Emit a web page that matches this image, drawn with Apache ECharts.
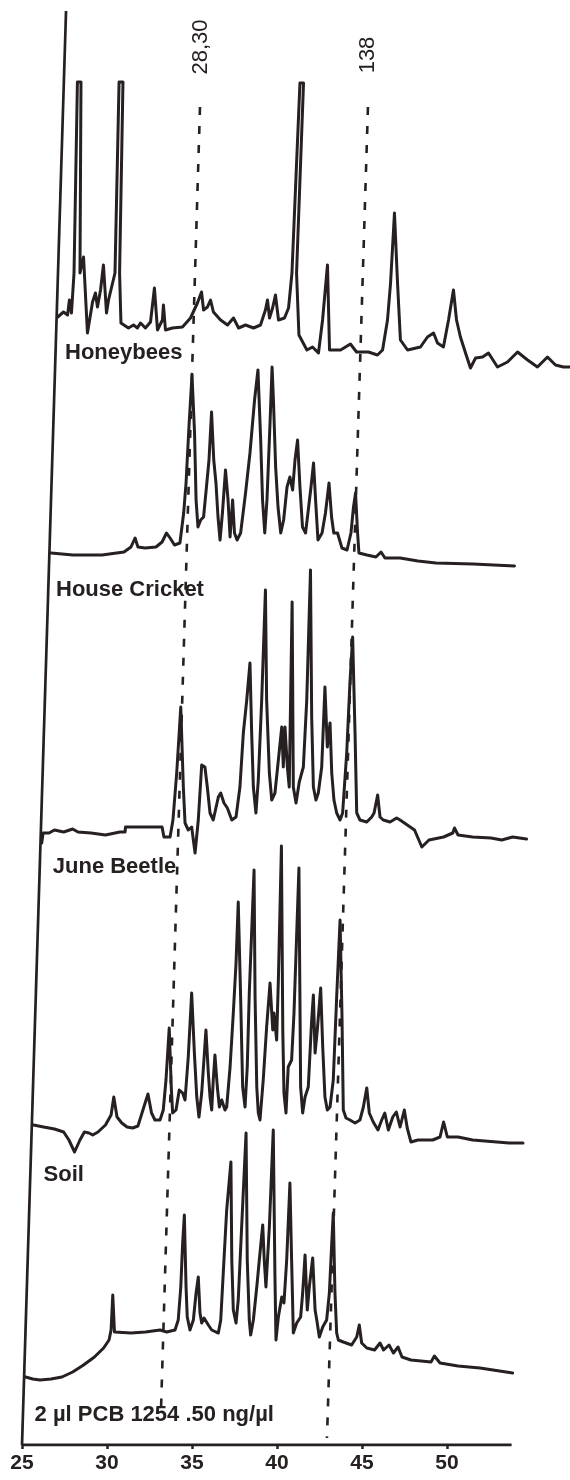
<!DOCTYPE html>
<html><head><meta charset="utf-8">
<script src="https://cdn.jsdelivr.net/npm/echarts@6/dist/echarts.min.js"></script>
<style>html,body{margin:0;padding:0;background:#fff}#c{width:570px;height:1480px}</style>
</head><body><div id="c"></div>
<script>
// Retention time (min) tick labels
const xTicks = [25, 30, 35, 40, 45, 50];
const timeAxisEnd = 53.8;
const traceNames = ['Honeybees', 'House Cricket', 'June Beetle', 'Soil', '2 µl PCB 1254 .50 ng/µl'];

// Each trace: [retention time, detector signal above its own baseline]
const honeybees = [
[27.1,13],[27.44,18],[27.68,15],[27.79,30],[27.91,17],
[28.06,57],[28.26,248],[28.47,248],[28.41,57],[28.62,73],[28.85,-3],
[29.15,28],[29.32,37],[29.44,23],[29.62,40],[29.79,65],[29.97,17],[30.09,30],
[30.47,57],[30.71,248],[30.94,248],[30.74,57],[30.82,7],
[31.26,2],[31.56,5],[31.79,2],[31.97,7],[32.26,2],[32.56,8],[32.79,42],[32.97,0],
[33.26,10],[33.32,25],[33.44,0],[33.85,2],[34.44,3],[34.91,12],[35.32,27],[35.56,38],
[35.68,20],[35.91,23],[36.09,30],[36.26,18],[36.68,10],[37.09,5],[37.44,12],[37.74,2],
[38.15,5],[38.62,2],[39.03,5],[39.32,20],[39.44,30],[39.56,12],[39.74,22],[39.91,35],
[40.09,10],[40.44,12],[40.68,22],
[40.88,57],[41.35,247],[41.56,247],[41.15,57],[41.29,-5],
[41.76,-20],[42.09,-17],[42.44,-23],[42.68,10],[42.97,65],[43.09,-20],[43.74,-20],
[44.32,-14],[44.68,-22],[45.38,-22],[45.91,-25],[46.21,-20],[46.5,10],[46.68,47],
[46.91,117],[47.09,47],[47.26,-10],[47.68,-20],[48.44,-17],[48.85,-7],[49.21,-3],
[49.44,-13],[49.79,-17],[50.09,10],[50.38,40],[50.56,10],[50.79,-7],[51.09,-23],
[51.38,-38],[51.68,-28],[52.09,-27],[52.44,-23],[52.97,-37],[53.56,-32],[54.15,-22],
[54.74,-30],[55.32,-37],[55.91,-27],[56.38,-35],[56.85,-37],[57.26,-37]
];

const houseCricket = [
[26.71,0],[28.0,-2],[29.71,-2],[31.0,1],[31.41,6],[31.65,15],[31.82,6],[32.24,5],
[32.88,6],[33.24,11],[33.5,20],[33.71,15],[33.97,8],[34.29,10],[34.51,40],[34.65,70],
[34.82,126],[35.0,178],[35.15,120],[35.24,53],[35.35,26],[35.51,33],[35.68,36],[35.85,66],
[36.0,93],[36.15,141],[36.28,93],[36.41,70],[36.53,36],[36.65,13],[36.79,40],[36.97,83],
[37.12,53],[37.24,16],[37.39,53],[37.5,20],[37.65,13],[37.86,20],[38.15,60],[38.41,100],
[38.68,153],[38.88,183],[39.04,113],[39.15,53],[39.28,20],[39.41,53],[39.59,130],[39.71,186],
[39.79,153],[39.92,86],[40.06,46],[40.22,20],[40.39,33],[40.59,66],[40.76,76],[40.92,63],
[41.06,93],[41.21,113],[41.35,66],[41.5,26],[41.68,20],[41.82,40],[42.0,66],[42.15,90],
[42.27,53],[42.41,13],[42.65,20],[42.85,40],[43.06,70],[43.21,36],[43.34,20],[43.56,20],
[43.82,5],[44.12,3],[44.35,20],[44.5,46],[44.62,60],[44.74,20],[44.82,0],[45.29,-2],
[45.82,-4],[46.12,1],[46.35,-5],[47.24,-5],[48.29,-8],[49.35,-10],[51.53,-11],[53.97,-13]
];

const juneBeetle = [
[26.16,-11],[26.24,-1],[26.59,-1],[26.91,2],[27.45,0],[27.98,3],[28.29,0],[29.06,-1],
[29.91,-3],[30.76,0],[31.06,0],[31.09,5],[31.82,5],[32.69,5],[33.24,5],[33.35,-5],
[33.71,-5],[33.88,12],[34.1,59],[34.34,125],[34.49,45],[34.59,9],[34.78,2],[34.98,5],
[35.18,-21],[35.37,12],[35.57,67],[35.76,65],[35.9,45],[36.06,19],[36.25,12],[36.55,35],
[36.69,39],[36.88,29],[37.08,24],[37.34,12],[37.59,15],[37.82,45],[38.02,99],[38.22,132],
[38.41,169],[38.51,99],[38.61,45],[38.76,19],[38.9,52],[39.1,132],[39.32,242],[39.39,132],
[39.55,59],[39.69,32],[39.88,39],[40.08,72],[40.28,105],[40.37,65],[40.47,105],[40.61,65],
[40.72,45],[40.89,230],[40.96,45],[41.12,29],[41.31,50],[41.55,65],[41.75,132],[41.97,262],
[42.04,115],[42.14,45],[42.29,32],[42.43,39],[42.63,65],[42.82,145],[42.96,85],[43.12,109],
[43.22,59],[43.35,32],[43.51,19],[43.71,12],[43.86,19],[44.1,79],[44.29,149],[44.45,195],
[44.59,99],[44.69,19],[44.88,12],[45.28,10],[45.57,15],[45.71,19],[45.92,37],[46.06,15],
[46.25,12],[46.65,10],[47.04,14],[47.24,12],[48.09,2],[48.52,-15],[48.94,-8],[49.8,-5],
[50.34,-1],[50.44,4],[50.65,-3],[51.51,-5],[52.59,-6],[53.22,-8],[53.86,-5],[54.68,-7]
];

const soil = [
[25.68,0],[26.27,-2],[26.91,-4],[27.45,-7],[27.76,-15],[28.09,-27],[28.41,-15],[28.67,-7],
[28.94,-8],[29.16,-10],[29.47,-7],[29.91,0],[30.24,10],[30.4,28],[30.59,8],[30.87,2],
[31.18,-2],[31.51,-3],[31.82,-1],[32.15,17],[32.41,31],[32.62,12],[32.82,5],[33.12,5],
[33.31,15],[33.47,45],[33.66,97],[33.78,38],[33.86,12],[34.06,15],[34.25,35],[34.45,32],
[34.59,25],[34.78,68],[34.98,132],[35.14,72],[35.28,28],[35.41,8],[35.57,32],[35.82,95],
[35.96,52],[36.06,28],[36.16,15],[36.25,45],[36.35,70],[36.49,38],[36.61,18],[36.75,25],
[36.94,15],[37.04,18],[37.24,58],[37.43,112],[37.59,162],[37.72,223],[37.86,128],[37.98,38],
[38.12,18],[38.25,58],[38.37,132],[38.65,255],[38.71,128],[38.81,38],[38.9,12],[39.0,5],
[39.19,45],[39.39,98],[39.59,142],[39.75,95],[39.82,112],[39.98,85],[40.08,145],[40.26,279],
[40.34,95],[40.41,32],[40.53,12],[40.66,58],[40.86,65],[41.0,112],[41.29,257],[41.34,145],
[41.39,38],[41.51,12],[41.65,28],[41.84,38],[42.04,105],[42.14,130],[42.24,72],[42.37,95],
[42.57,137],[42.69,78],[42.82,28],[42.96,15],[43.12,18],[43.31,45],[43.51,128],[43.71,205],
[43.82,112],[43.9,15],[44.06,7],[44.29,5],[44.59,2],[44.88,5],[45.08,18],[45.28,37],
[45.43,12],[45.66,3],[45.94,-5],[46.16,5],[46.34,12],[46.55,-5],[46.81,8],[47.02,13],
[47.24,-2],[47.49,15],[47.66,-3],[47.88,-17],[48.29,-15],[49.16,-15],[49.59,-12],[49.8,3],
[50.02,-12],[50.65,-12],[51.51,-15],[53.65,-18],[54.47,-18]
];

const pcb1254 = [
[25.21,0],[25.63,-2],[26.06,-3],[26.71,-2],[27.35,0],[27.98,5],[28.62,12],[29.26,20],
[29.8,29],[30.12,37],[30.24,47],[30.34,82],[30.44,45],[30.55,43],[31.41,44],[32.26,45],
[33.12,47],[33.51,45],[34.0,47],[34.19,57],[34.34,90],[34.45,134],[34.55,162],[34.65,90],
[34.72,60],[34.88,47],[35.08,57],[35.24,84],[35.37,100],[35.47,64],[35.57,54],[35.71,59],
[35.82,60],[35.96,52],[36.16,47],[36.41,45],[36.55,44],[36.69,57],[36.88,117],[37.04,167],
[37.29,215],[37.34,117],[37.43,67],[37.59,54],[37.72,77],[37.92,150],[38.18,244],[38.25,117],
[38.37,57],[38.45,42],[38.61,57],[38.81,90],[38.96,117],[39.16,152],[39.25,117],[39.35,90],
[39.43,114],[39.55,150],[39.78,247],[39.88,100],[39.94,37],[40.08,60],[40.28,80],[40.41,74],
[40.57,117],[40.76,194],[40.86,117],[40.96,44],[41.16,54],[41.39,60],[41.51,84],[41.65,122],
[41.78,67],[41.9,90],[42.1,119],[42.24,67],[42.34,57],[42.49,40],[42.69,50],[42.92,57],
[43.08,84],[43.22,134],[43.31,164],[43.41,84],[43.51,44],[43.61,37],[43.9,35],[44.39,32],
[44.69,40],[44.84,52],[44.98,34],[45.28,29],[45.74,27],[46.06,34],[46.27,27],[46.59,32],
[46.85,24],[47.12,30],[47.35,20],[47.88,17],[49.06,15],[49.26,21],[49.59,14],[50.65,11],
[51.94,9],[53.86,4]
];

// Reference retention lines (congeners) and the slanted signal axis, in [time, height] units
const markerNames = ['28,30', '138'];
const markerLines = [[[35.47, 1338], [33.18, 37]], [[45.35, 1338], [42.94, 7]]];
const signalAxis = [[25, 0], [27.59, 1434]];

// ---- layout / style (not data) ----
const INK = '#262020';
const FONT = 'Liberation Sans, Arial, Helvetica, sans-serif';
const FULL = 1445;                             // overlay height units
const baseHeights = [1115, 892, 613, 320, 68]; // baseline of each trace above the time axis
const traceLabelPos = [[27.53, 1092], [27.0, 855], [26.81, 578], [26.27, 270], [25.74, 30]];
const markerLabelPos = [[35.53, 1398], [45.32, 1390]];
const PX_PER_MIN = 17, LEFT = 22, WIDTH = 570;

const traces = [honeybees, houseCricket, juneBeetle, soil, pcb1254];

const yAxes = [{ type: 'value', min: 0, max: FULL, show: false }];
baseHeights.forEach(b => yAxes.push({ type: 'value', min: -b, max: FULL - b, show: false }));

const series = [];
// time axis line (stops at the end of the run)
series.push({
  type: 'line', data: [[xTicks[0], 0], [timeAxisEnd, 0]], yAxisIndex: 0, symbol: 'none', silent: true,
  lineStyle: { color: INK, width: 3 }, z: 4, animation: false
});
// slanted signal axis
series.push({
  type: 'line', data: signalAxis, yAxisIndex: 0, symbol: 'none', silent: true,
  lineStyle: { color: INK, width: 2.7 }, z: 4, animation: false
});
// dashed marker lines
markerLines.forEach((seg, i) => series.push({
  type: 'line', name: markerNames[i], data: seg, yAxisIndex: 0, symbol: 'none', silent: true,
  lineStyle: { color: INK, width: 2.6, type: [8, 11] }, z: 2, animation: false
}));
// chromatograms
traces.forEach((d, i) => series.push({
  type: 'line', name: traceNames[i], data: d, yAxisIndex: i + 1, symbol: 'none', showSymbol: false,
  silent: true,
  lineStyle: { color: INK, width: 3, join: 'round', cap: 'round' }, z: 3, animation: false
}));
// trace labels
series.push({
  type: 'scatter', yAxisIndex: 0, symbolSize: 0, silent: true, animation: false, z: 5,
  itemStyle: { opacity: 1 },
  data: traceNames.map((n, i) => ({ name: n, value: traceLabelPos[i] })),
  label: { show: true, position: 'inside', formatter: p => p.name, align: 'left', verticalAlign: 'middle',
    color: INK, fontFamily: FONT, fontWeight: 'bold', fontSize: 22 }
});
// marker labels (vertical)
series.push({
  type: 'scatter', yAxisIndex: 0, symbolSize: 0, silent: true, animation: false, z: 5,
  itemStyle: { opacity: 1 },
  data: markerNames.map((n, i) => ({ name: n, value: markerLabelPos[i] })),
  label: { show: true, position: 'inside', formatter: p => p.name, rotate: 90, align: 'center', verticalAlign: 'middle',
    color: INK, fontFamily: FONT, fontSize: 22 }
});

const chart = echarts.init(document.getElementById('c'), null, { renderer: 'canvas' });
chart.setOption({
  backgroundColor: '#ffffff',
  animation: false,
  grid: { left: LEFT, right: 0, top: 0, bottom: 35, containLabel: false },
  xAxis: {
    type: 'value', min: xTicks[0], max: xTicks[0] + (WIDTH - LEFT) / PX_PER_MIN,
    axisLine: { show: false },
    axisTick: { show: true, length: 4, customValues: xTicks, lineStyle: { color: INK, width: 2.5 } },
    axisLabel: { show: true, customValues: xTicks, color: INK, fontFamily: FONT, fontWeight: 'bold', fontSize: 21, margin: 8 },
    splitLine: { show: false }
  },
  yAxis: yAxes,
  series: series
});
</script>
</body></html>
